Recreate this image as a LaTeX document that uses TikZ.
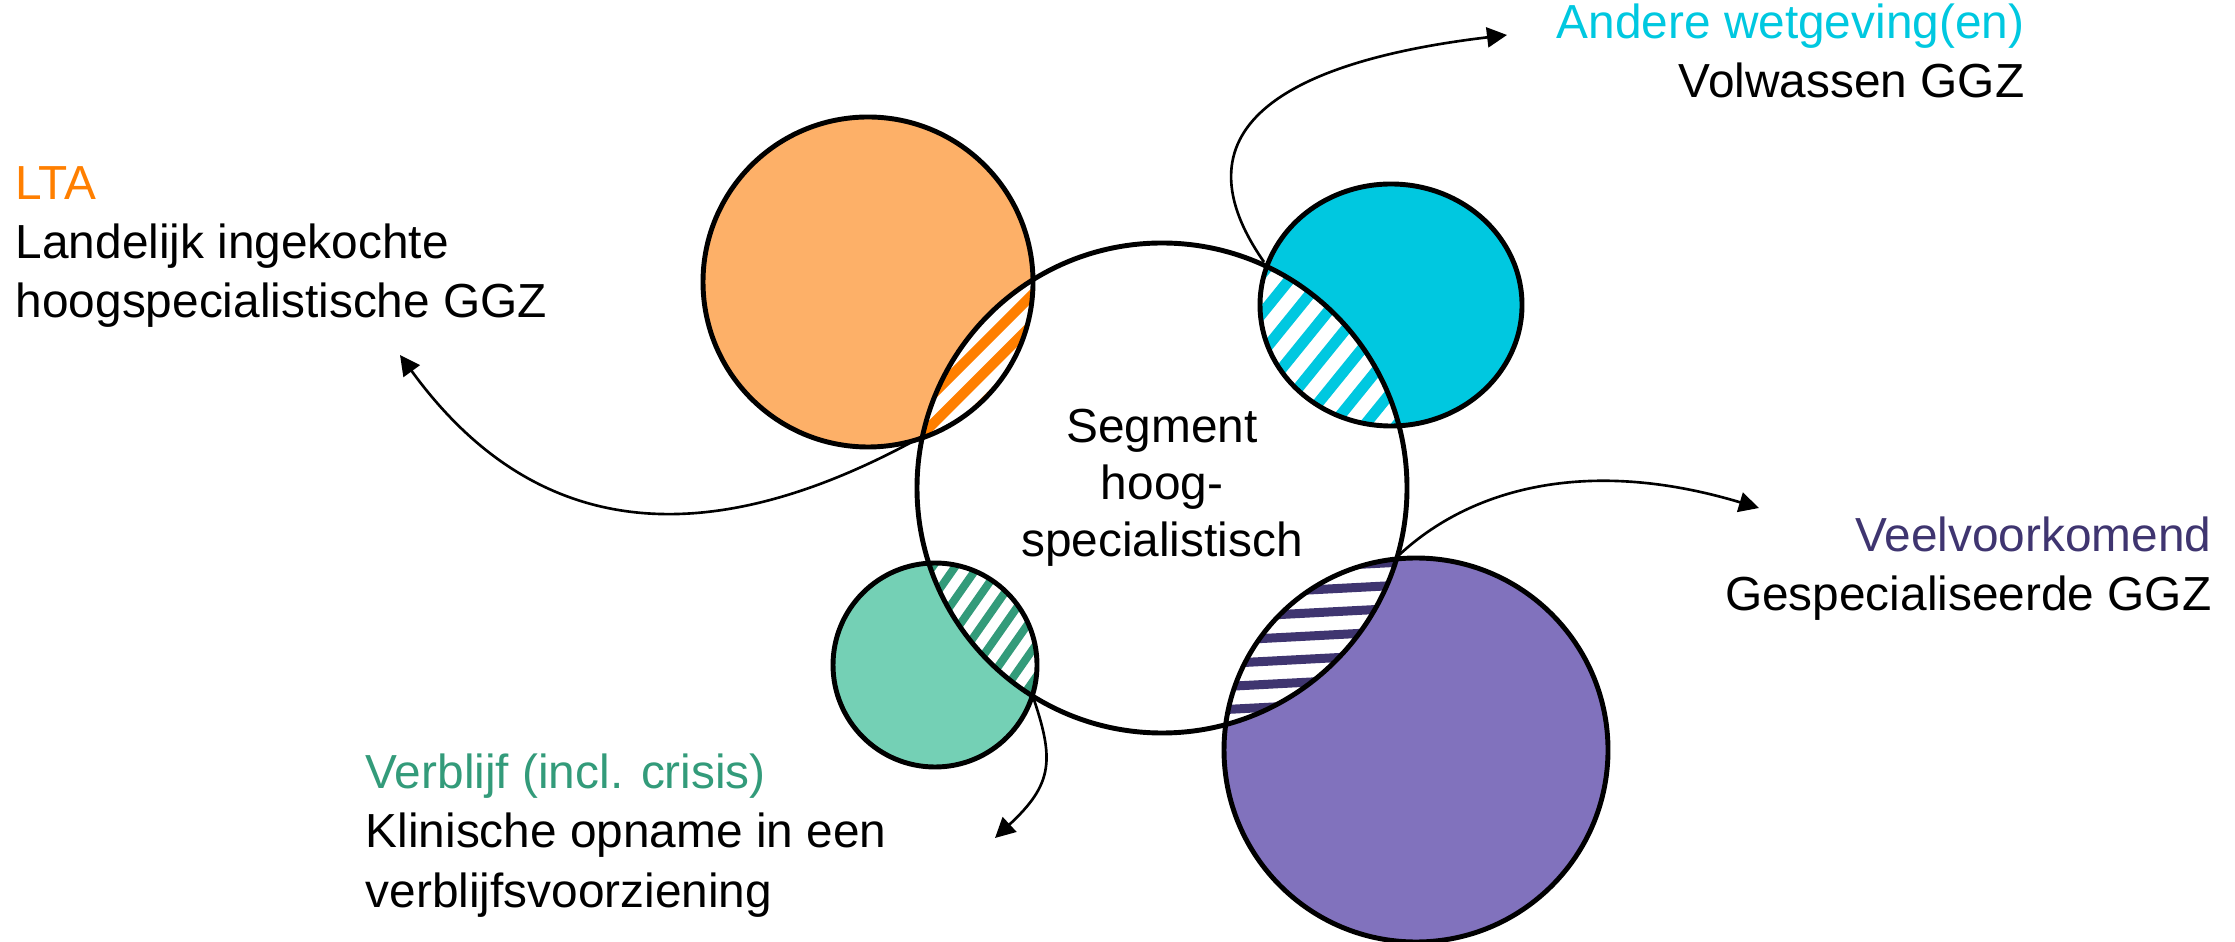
\documentclass[tikz,border=0pt]{standalone}
\usepackage{fontspec}
\setmainfont{Liberation Sans}
\usepackage{tikz}
\usetikzlibrary{arrows.meta}

\definecolor{ltaFill}{RGB}{253,176,104}
\definecolor{ltaDark}{RGB}{255,127,0}
\definecolor{andereCyan}{RGB}{0,200,224}
\definecolor{verblijfFill}{RGB}{116,208,181}
\definecolor{verblijfDark}{RGB}{51,155,122}
\definecolor{veelFill}{RGB}{129,114,189}
\definecolor{veelDark}{RGB}{63,53,112}

\begin{document}
\begin{tikzpicture}[
    ring/.style={draw=black, line width=1.4pt},
    stripe/.style={line width=0.9mm},
    infotext/.style={inner sep=0pt, font=\fontsize{13.6pt}{16.8pt}\selectfont},
    pointer/.style={-{Triangle[length=2mm, width=2mm]}, line width=0.75pt}
]
    \path[use as bounding box, fill=white] (0,0) rectangle (22.35,9.41);

    % === Centres ===
    \coordinate (seg) at (11.62, 4.53);
    \coordinate (lta) at (8.68, 6.59);
    \coordinate (andere) at (13.91, 6.36);
    \coordinate (verblijf) at (9.35, 2.76);
    \coordinate (veel) at (14.16, 1.91);

    % === Coloured circles ===
    \fill[ltaFill] (lta) circle (1.65);
    \fill[andereCyan] (andere) ellipse (1.31 and 1.21);
    \fill[verblijfFill] (verblijf) circle (1.02);
    \fill[veelFill] (veel) circle (1.92);

    % === Overlaps with the segment ===
    \begin{scope}
        \clip (seg) circle (2.45);
        \clip (lta) circle (1.65);
        \fill[white] (seg) circle (2.45);
        \begin{scope}[shift={(9.80, 5.94)}, rotate=45]
            \foreach \k in {-5,...,5}
                \draw[line width=1mm, ltaDark] (-3, \k*0.21) -- (3, \k*0.21);
        \end{scope}
    \end{scope}

    \begin{scope}
        \clip (seg) circle (2.45);
        \clip (andere) ellipse (1.31 and 1.21);
        \fill[white] (seg) circle (2.45);
        \begin{scope}[shift={(13.33, 5.96)}, rotate=51]
            \foreach \k in {-6,...,6}
                \draw[line width=1.1mm, andereCyan] (-3, \k*0.25) -- (3, \k*0.25);
        \end{scope}
    \end{scope}

    \begin{scope}
        \clip (seg) circle (2.45);
        \clip (verblijf) circle (1.02);
        \fill[white] (seg) circle (2.45);
        \begin{scope}[shift={(9.80, 3.13)}, rotate=55]
            \foreach \k in {-7,...,7}
                \draw[line width=0.8mm, verblijfDark] (-3, \k*0.185) -- (3, \k*0.185);
        \end{scope}
    \end{scope}

    \begin{scope}
        \clip (seg) circle (2.45);
        \clip (veel) circle (1.92);
        \fill[white] (seg) circle (2.45);
        \begin{scope}[shift={(13.10, 3.05)}, rotate=3]
            \foreach \k in {-6,...,6}
                \draw[stripe, veelDark] (-3, \k*0.23) -- (3, \k*0.23);
        \end{scope}
    \end{scope}

    % === Outlines ===
    \draw[ring] (lta) circle (1.65);
    \draw[ring] (andere) ellipse (1.31 and 1.21);
    \draw[ring] (verblijf) circle (1.02);
    \draw[ring] (veel) circle (1.92);
    \draw[ring] (seg) circle (2.45);

    \node[align=center, font=\fontsize{13.6pt}{16.2pt}\selectfont] (segTxt) at (seg) {Segment\\hoog-\\specialistisch};

    % === Labels ===
    \node[infotext, anchor=base west, align=left] (ltaTxt) at (0.15, 6.23)
        {\textcolor{ltaDark}{LTA}\\Landelijk ingekochte\\hoogspecialistische GGZ};
    \node[infotext, anchor=base east, align=right] (andereTxt) at (20.25, 8.43)
        {\textcolor{andereCyan}{Andere wetgeving(en)}\\Volwassen GGZ};
    \node[infotext, anchor=base east, align=right] (veelTxt) at (22.12, 3.30)
        {\textcolor{veelDark}{Veelvoorkomend}\\Gespecialiseerde GGZ};
    \node[infotext, anchor=base west, align=left] (verblijfTxt) at (3.65, 0.34)
        {\textcolor{verblijfDark}{Verblijf (incl. crisis)}\\Klinische opname in een\\verblijfsvoorziening};

    % === Arrows ===
    \coordinate (ltaX) at (9.21, 5.04);
    \coordinate (andereX) at (12.64, 6.79);
    \coordinate (veelX) at (13.98, 3.85);
    \coordinate (verblijfX) at (10.32, 2.47);
    \coordinate (ltaEnd) at (4.00, 5.86);
    \coordinate (andereEnd) at (15.07, 9.06);
    \coordinate (veelEnd) at (17.59, 4.33);
    \coordinate (verblijfEnd) at (9.95, 1.03);

    \draw[pointer] (ltaX) .. controls (6.80, 3.71) and (5.20, 4.21) .. (ltaEnd);
    \draw[pointer] (andereX) .. controls (11.67, 8.18) and (12.97, 8.81) .. (andereEnd);
    \draw[pointer] (veelX) .. controls (14.69, 4.52) and (15.86, 4.85) .. (veelEnd);
    \draw[pointer] (verblijfX) .. controls (10.55, 1.81) and (10.53, 1.57) .. (verblijfEnd);

\end{tikzpicture}
\end{document}
